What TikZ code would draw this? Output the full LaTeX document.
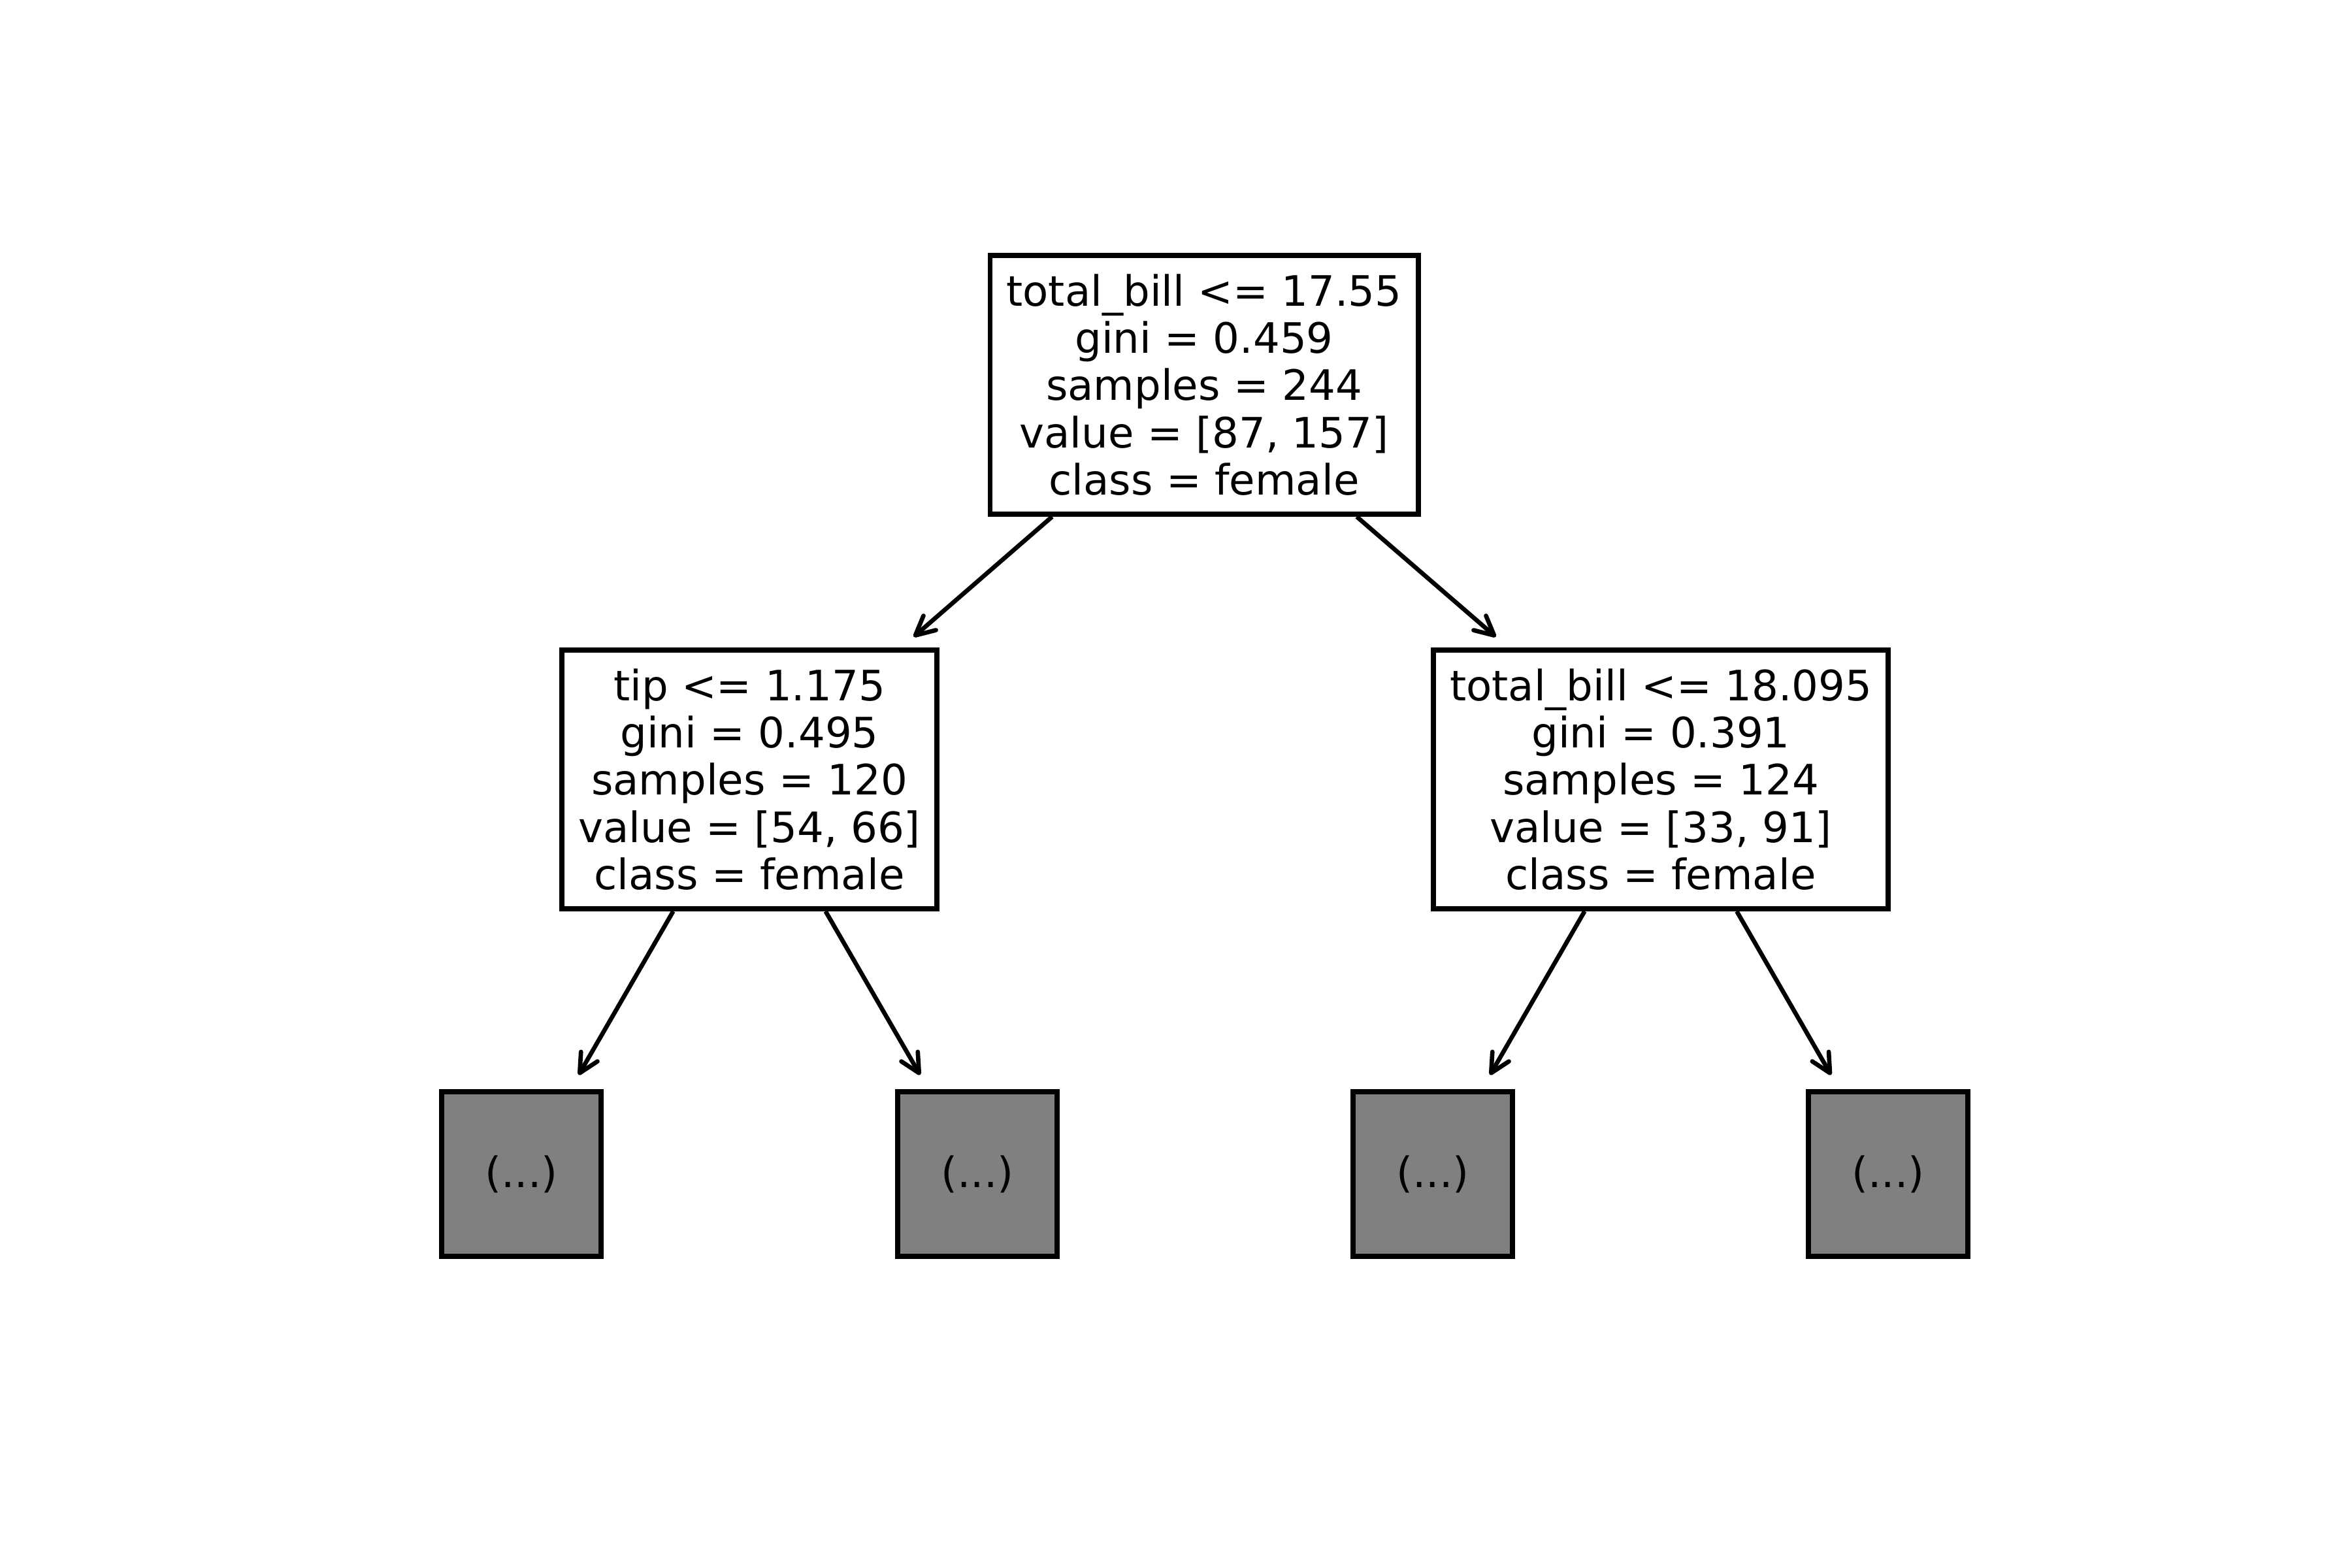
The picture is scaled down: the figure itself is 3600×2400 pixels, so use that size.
\documentclass[tikz,border=0pt]{standalone}
\usepackage{fontspec}
\setmainfont{DejaVu Sans}
\usepackage{xcolor}
\usetikzlibrary{arrows.meta}
\definecolor{leafgray}{RGB}{128,128,128}

\begin{document}
\begin{tikzpicture}[x=0.24pt,y=-0.24pt,>={Straight Barb[length=7pt,width=7pt,round]},
  split/.style={draw,line width=1.9pt,fill=white,align=center,inner xsep=6pt,minimum height=95pt,
    font=\fontsize{15.4pt}{17.35pt}\selectfont},
  leafbox/.style={draw,line width=1.9pt,fill=leafgray,minimum width=58.5pt,minimum height=60.5pt,
    font=\fontsize{15.4pt}{17.35pt}\selectfont},
  branch/.style={->,line width=1.6pt,shorten >=6pt}]
  \useasboundingbox (0,0) rectangle (3600,2400);
  % splits
  \node[split] (root) at (1843,589) {total\_bill <= 17.55\\gini = 0.459\\samples = 244\\value = [87, 157]\\class = female};
  \node[split] (left) at (1147,1193) {tip <= 1.175\\gini = 0.495\\samples = 120\\value = [54, 66]\\class = female};
  \node[split] (right) at (2542,1193) {total\_bill <= 18.095\\gini = 0.391\\samples = 124\\value = [33, 91]\\class = female};
  % truncated leaves
  \node[leafbox] (ll) at (798,1797) {(...)};
  \node[leafbox] (lr) at (1496,1797) {(...)};
  \node[leafbox] (rl) at (2193,1797) {(...)};
  \node[leafbox] (rr) at (2890,1797) {(...)};
  \draw[branch] (root) -- (left);
  \draw[branch] (root) -- (right);
  \draw[branch] (left) -- (ll);
  \draw[branch] (left) -- (lr);
  \draw[branch] (right) -- (rl);
  \draw[branch] (right) -- (rr);
\end{tikzpicture}
\end{document}
